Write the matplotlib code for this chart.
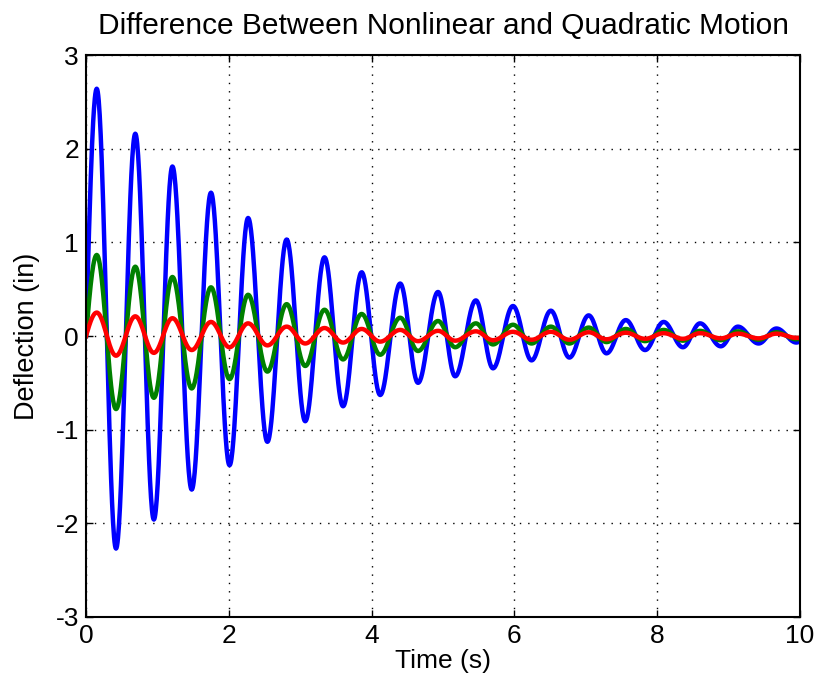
import numpy as np
import matplotlib.pyplot as plt

plt.rcParams['font.family'] = ['Liberation Sans', 'DejaVu Sans']
plt.rcParams['axes.unicode_minus'] = False

# times of the peaks and troughs (s)
peak_t = [0.15, 0.69, 1.21, 1.75, 2.27, 2.81, 3.34, 3.86, 4.40, 4.93,
          5.46, 5.98, 6.51, 7.04, 7.56, 8.09, 8.60, 9.13, 9.67]
trough_t = [0.42, 0.95, 1.48, 2.01, 2.54, 3.07, 3.60, 4.12, 4.65, 5.17,
            5.70, 6.24, 6.77, 7.29, 7.83, 8.36, 8.89, 9.42, 9.95]

# peak / trough deflections (in) for each curve
blue_peaks = [2.64, 2.16, 1.81, 1.53, 1.26, 1.03, 0.84, 0.68, 0.56, 0.47,
              0.38, 0.32, 0.27, 0.22, 0.17, 0.15, 0.135, 0.10, 0.08]
blue_troughs = [-2.27, -1.96, -1.64, -1.38, -1.13, -0.91, -0.75, -0.63, -0.50, -0.43,
                -0.345, -0.26, -0.23, -0.185, -0.15, -0.12, -0.11, -0.08, -0.07]

green_peaks = [0.865, 0.74, 0.63, 0.52, 0.44, 0.34, 0.28, 0.235, 0.195, 0.16,
               0.135, 0.12, 0.10, 0.09, 0.075, 0.065, 0.055, 0.05, 0.04]
green_troughs = [-0.78, -0.66, -0.56, -0.46, -0.38, -0.32, -0.25, -0.20, -0.16, -0.12,
                 -0.09, -0.08, -0.08, -0.065, -0.055, -0.05, -0.045, -0.04, -0.035]

red_peaks = [0.25, 0.21, 0.19, 0.15, 0.135, 0.10, 0.085, 0.075, 0.065, 0.055,
             0.05, 0.045, 0.045, 0.04, 0.035, 0.03, 0.03, 0.025, 0.025]
red_troughs = [-0.21, -0.18, -0.15, -0.12, -0.10, -0.08, -0.07, -0.06, -0.055, -0.05,
               -0.045, -0.04, -0.04, -0.035, -0.03, -0.03, -0.025, -0.025, -0.02]

end_t = 10.0
blue_end, green_end, red_end = -0.06, -0.03, -0.02


def curve(peaks, troughs, y_end):
    # join the extrema with smooth half-cosine arcs, starting from rest at 0
    pts_t = [0.0]
    pts_y = [0.0]
    for tp, yp, tt, yt in zip(peak_t, peaks, trough_t, troughs):
        pts_t += [tp, tt]
        pts_y += [yp, yt]
    pts_t.append(end_t)
    pts_y.append(y_end)
    ts, ys = [], []
    for i in range(len(pts_t) - 1):
        t0, t1 = pts_t[i], pts_t[i + 1]
        y0, y1 = pts_y[i], pts_y[i + 1]
        s = np.linspace(0, 1, 40)
        if i == 0:
            y = y1 * np.sin(np.pi / 2 * s)
        else:
            y = (y0 + y1) / 2 + (y0 - y1) / 2 * np.cos(np.pi * s)
        ts.append(t0 + (t1 - t0) * s)
        ys.append(y)
    return np.concatenate(ts), np.concatenate(ys)


fig = plt.figure(figsize=(8.17, 6.92), dpi=100)
ax = fig.add_axes([0.1053, 0.1084, 0.8739, 0.8121])

for pk, tr, ye, col in [(blue_peaks, blue_troughs, blue_end, '#0000ff'),
                        (green_peaks, green_troughs, green_end, '#008000'),
                        (red_peaks, red_troughs, red_end, '#ff0000')]:
    t, y = curve(pk, tr, ye)
    ax.plot(t, y, color=col, lw=3.2)

ax.set_xlim(0, 10)
ax.set_ylim(-3, 3)
ax.set_xticks([0, 2, 4, 6, 8, 10])
ax.set_yticks([-3, -2, -1, 0, 1, 2, 3])
ax.grid(True, color='black', linestyle=(0, (1, 5)), linewidth=1.0)
ax.tick_params(direction='in', top=True, right=True, length=5, width=1,
               labelsize=19, pad=5)
for sp in ax.spines.values():
    sp.set_linewidth(1.5)

ax.set_title('Difference Between Nonlinear and Quadratic Motion', fontsize=21.5, pad=15)
ax.set_xlabel('Time (s)', fontsize=19, labelpad=1)
ax.set_ylabel('Deflection (in)', fontsize=19.5, labelpad=11)

fig.savefig('out.png', dpi=100)
